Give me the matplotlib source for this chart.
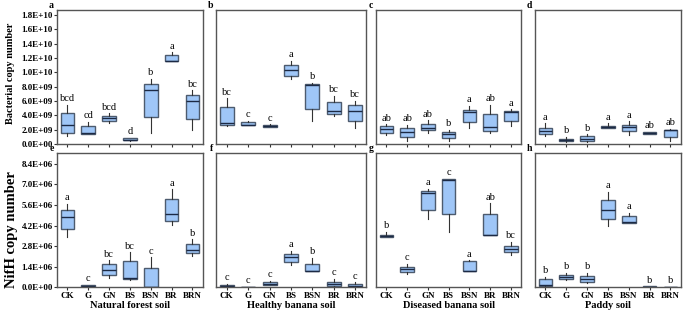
import numpy as np
import matplotlib
matplotlib.use("Agg")
import matplotlib.pyplot as plt

plt.rcParams['font.family'] = ['Liberation Serif', 'DejaVu Serif']

groups = ['CK', 'G', 'GN', 'BS', 'BSN', 'BR', 'BRN']
soils = ['Natural forest soil', 'Healthy banana soil', 'Diseased banana soil', 'Paddy soil']

# each row: whisker low, q1, median, q3, whisker high  (bacteria, x1e9)
bact_forest = [[1.05, 1.6, 2.6, 4.3, 5.5], [1.43, 1.43, 1.5, 2.5, 3.1], [2.95, 3.2, 3.6, 3.95, 4.3],
               [0.4, 0.5, 0.6, 0.8, 0.9], [1.5, 3.8, 7.6, 8.4, 9.1], [11.57, 11.57, 11.6, 12.4, 12.8],
               [2.0, 3.5, 6.0, 6.9, 7.5]]
bact_healthy = [[2.5, 2.6, 2.95, 5.1, 6.4], [2.6, 2.6, 2.67, 3.05, 3.2], [2.4, 2.4, 2.5, 2.67, 2.75],
                [9.1, 9.5, 10.3, 11.05, 11.6], [3.2, 4.95, 8.2, 8.3, 8.5], [3.9, 4.2, 4.67, 5.9, 6.76],
                [2.3, 3.24, 4.67, 5.4, 6.05]]
bact_diseased = [[1.24, 1.5, 2.1, 2.5, 2.76], [0.38, 0.95, 1.7, 2.2, 2.67], [1.6, 1.9, 2.29, 2.8, 3.33],
                 [0.38, 0.86, 1.33, 1.67, 1.95], [2.29, 3.1, 4.5, 4.8, 5.33], [1.52, 1.8, 2.33, 4.24, 5.43],
                 [2.48, 3.14, 4.5, 4.57, 4.86]]
bact_paddy = [[1.14, 1.38, 1.76, 2.19, 2.86], [0.3, 0.38, 0.57, 0.76, 1.0], [0.3, 0.48, 0.76, 1.05, 1.33],
              [2.2, 2.3, 2.38, 2.48, 2.86], [1.29, 1.76, 2.38, 2.7, 3.14], [1.33, 1.38, 1.52, 1.62, 1.7],
              [0.38, 1.0, 1.9, 1.9, 2.1]]
bact_letters = [['bcd', 'cd', 'bcd', 'd', 'b', 'a', 'bc'],
                ['bc', 'c', 'c', 'a', 'b', 'bc', 'bc'],
                ['ab', 'ab', 'ab', 'b', 'a', 'ab', 'a'],
                ['a', 'b', 'b', 'a', 'a', 'ab', 'ab']]

# nifH, x1e6
nifh_forest = [[3.4, 3.95, 4.81, 5.24, 5.68], [0.03, 0.05, 0.08, 0.14, 0.18], [0.66, 0.82, 1.18, 1.57, 1.86],
               [0.5, 0.57, 0.66, 1.77, 2.4], [0.0, 0.0, 0.02, 1.32, 2.04], [4.22, 4.5, 5.0, 6.0, 6.67],
               [2.13, 2.32, 2.54, 2.93, 3.27]]
nifh_healthy = [[0.0, 0.02, 0.09, 0.18, 0.25], [0.0, 0.0, 0.01, 0.03, 0.04], [0.14, 0.18, 0.27, 0.36, 0.45],
                [1.52, 1.73, 2.04, 2.27, 2.5], [1.11, 1.11, 1.12, 1.63, 2.0], [0.0, 0.07, 0.23, 0.39, 0.61],
                [0.0, 0.01, 0.11, 0.23, 0.36]]
nifh_diseased = [[3.4, 3.4, 3.47, 3.54, 3.8], [0.9, 1.04, 1.27, 1.41, 1.59], [4.68, 5.27, 6.45, 6.58, 6.7],
                 [3.8, 5.0, 7.31, 7.36, 7.4], [1.09, 1.09, 1.1, 1.77, 1.85], [3.54, 3.54, 3.56, 5.0, 5.72],
                 [2.22, 2.38, 2.59, 2.84, 3.09]]
nifh_paddy = [[0.02, 0.09, 0.15, 0.59, 0.73], [0.5, 0.59, 0.73, 0.86, 1.0], [0.32, 0.36, 0.61, 0.77, 1.0],
              [4.18, 4.63, 5.27, 5.95, 6.49], [4.38, 4.38, 4.43, 4.84, 5.09], [0.0, 0.02, 0.04, 0.07, 0.09],
              [0.0, 0.005, 0.01, 0.02, 0.03]]
nifh_letters = [['a', 'c', 'bc', 'bc', 'c', 'a', 'b'],
                ['c', 'c', 'c', 'a', 'b', 'c', 'c'],
                ['b', 'c', 'a', 'c', 'a', 'ab', 'bc'],
                ['b', 'b', 'b', 'a', 'a', 'b', 'b']]

bact_data = [bact_forest, bact_healthy, bact_diseased, bact_paddy]
nifh_data = [nifh_forest, nifh_healthy, nifh_diseased, nifh_paddy]
panel_tags = ['a', 'b', 'c', 'd', 'e', 'f', 'g', 'h']

box_face = '#9fc6f7'
box_edge = '#4d5b6e'
med_col = '#1c2a45'
spine_col = '#555555'

fig = plt.figure(figsize=(6.85, 3.11), dpi=100)
lefts = [0.0832, 0.3153, 0.549, 0.781]
widths = [0.213, 0.219, 0.212, 0.213]


def sci_label(t):
    if t == 0:
        return '0.0E+00'
    e = int(np.floor(np.log10(t)))
    return '%.1fE+%02d' % (t / 10 ** e, e)


def draw_panel(ax, rows, scale, letters, ymax):
    stats = []
    for r in rows:
        lo, q1, med, q3, hi = [v * scale for v in r]
        stats.append(dict(whislo=lo, q1=q1, med=med, q3=q3, whishi=hi, fliers=[]))
    pos = np.arange(1, len(rows) + 1)
    ax.bxp(stats, positions=pos, widths=0.65, patch_artist=True, showcaps=False,
           boxprops=dict(facecolor=box_face, edgecolor=box_edge, linewidth=1.0),
           medianprops=dict(color=med_col, linewidth=1.0),
           whiskerprops=dict(color='#333333', linewidth=0.8))
    for p, r, lab in zip(pos, rows, letters):
        ax.text(p, r[4] * scale + ymax * 0.012, lab, ha='center', va='bottom', fontsize=7.5)
    ax.set_xlim(0.5, len(rows) + 0.5)
    ax.set_ylim(0, ymax)
    for s in ax.spines.values():
        s.set_color(spine_col)
        s.set_linewidth(1.0)
    ax.tick_params(axis='both', direction='out', length=2, width=0.8, color='#333333', pad=1)


for i in range(4):
    ax = fig.add_axes([lefts[i], 0.537, widths[i], 0.431])
    draw_panel(ax, bact_data[i], 1e9, bact_letters[i], 1.87e10)
    ax.set_xticks(np.arange(1, 8))
    ax.set_xticklabels([])
    if i == 0:
        ticks = np.arange(0, 1.81e10, 2e9)
        ax.set_yticks(ticks)
        ax.set_yticklabels([sci_label(t) for t in ticks], fontsize=6.5, fontweight='bold')
        ax.set_ylabel('Bacterial copy number', fontsize=7.5, fontweight='bold')
        ax.yaxis.set_label_coords(-0.29, 0.53)
    else:
        ax.set_yticks([])
    ax.text(-0.02, 1.0, panel_tags[i], transform=ax.transAxes, ha='right', va='bottom',
            fontsize=7, fontweight='bold')

    ax2 = fig.add_axes([lefts[i], 0.0756, widths[i], 0.432])
    draw_panel(ax2, nifh_data[i], 1e6, nifh_letters[i], 9.13e6)
    ax2.set_xticks(np.arange(1, 8))
    ax2.set_xticklabels(groups, fontsize=6.5, fontweight='bold')
    ax2.set_xlabel(soils[i], fontsize=7.5, fontweight='bold', labelpad=1)
    if i == 0:
        ticks = np.arange(0, 8.41e6, 1.4e6)
        ax2.set_yticks(ticks)
        ax2.set_yticklabels([sci_label(t) for t in ticks], fontsize=6.5, fontweight='bold')
        ax2.set_ylabel('NifH copy number', fontsize=10.5, fontweight='bold')
        ax2.yaxis.set_label_coords(-0.27, 0.43)
    else:
        ax2.set_yticks([])
    ax2.text(-0.02, 1.0, panel_tags[i + 4], transform=ax2.transAxes, ha='right', va='bottom',
             fontsize=7, fontweight='bold')

fig.savefig('out.png', dpi=100)
